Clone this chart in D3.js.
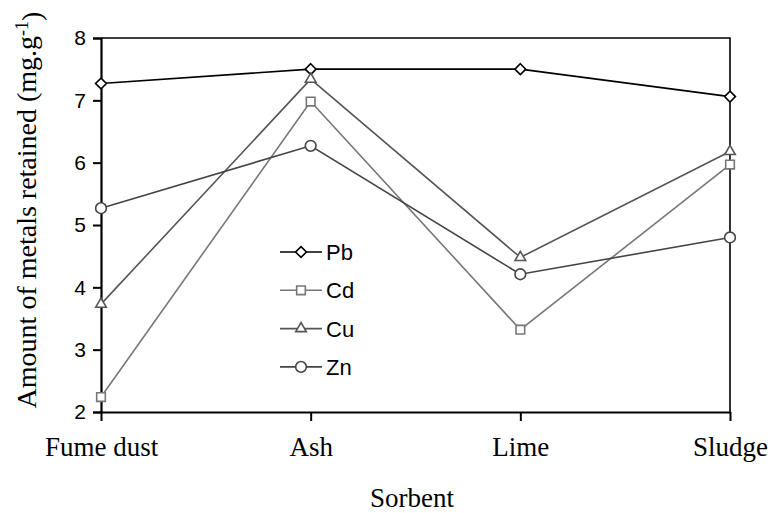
<!DOCTYPE html>
<html>
<head>
<meta charset="utf-8">
<script src="https://cdn.jsdelivr.net/npm/d3@7"></script>
<style>
  body { margin: 0; background: #fff; }
  svg { display: block; }
</style>
</head>
<body>
<div id="chart"></div>
<script>
// metals retained by each sorbent
const sorbents = ["Fume dust", "Ash", "Lime", "Sludge"];
const pb = [7.27, 7.50, 7.50, 7.06];
const cd = [2.24, 6.98, 3.32, 5.97];
const cu = [3.73, 7.34, 4.48, 6.18];
const zn = [5.27, 6.27, 4.21, 4.80];
const yTicks = [2, 3, 4, 5, 6, 7, 8];

const series = [
    { name: "Pb", values: pb, color: "#000", shape: "diamond" },
    { name: "Cd", values: cd, color: "#777", shape: "square" },
    { name: "Cu", values: cu, color: "#555", shape: "triangle" },
    { name: "Zn", values: zn, color: "#444", shape: "circle" }
];

const width = 771, height = 513;
const margin = { top: 38, right: 41, bottom: 101, left: 101 };
const serif = "Liberation Serif, Times New Roman, serif";
const sans = "Liberation Sans, Arial, sans-serif";

const svg = d3.select("#chart").append("svg")
    .attr("width", width)
    .attr("height", height);

const x = d3.scalePoint()
    .domain(sorbents)
    .range([margin.left, width - margin.right]);

const y = d3.scaleLinear()
    .domain([2, 8])
    .range([height - margin.bottom, margin.top]);

const symbols = {
    diamond: d3.symbol().type(d3.symbolDiamond2).size(75),
    square: d3.symbol().type(d3.symbolSquare2).size(95),
    triangle: d3.symbol().type(d3.symbolTriangle2).size(80),
    circle: d3.symbol().type(d3.symbolCircle).size(90)
};

// frame (top and right)
svg.append("path")
    .attr("d", `M${margin.left},${margin.top}H${width - margin.right}V${height - margin.bottom}`)
    .attr("fill", "none")
    .attr("stroke", "#000")
    .attr("stroke-width", 1.6);

// y axis
const yAxis = svg.append("g")
    .attr("transform", `translate(${margin.left},0)`)
    .call(d3.axisLeft(y).tickValues(yTicks).tickSize(8).tickPadding(7).tickFormat(d3.format("d")));
yAxis.select(".domain").attr("stroke-width", 2.2);
yAxis.selectAll(".tick line").attr("stroke-width", 2);
yAxis.selectAll("text")
    .style("font-family", sans)
    .style("font-size", "21px")
    .attr("fill", "#000");

// x axis
const xAxis = svg.append("g")
    .attr("transform", `translate(0,${height - margin.bottom})`)
    .call(d3.axisBottom(x).tickSize(9).tickSizeOuter(0));
xAxis.select(".domain").attr("stroke-width", 2.2);
xAxis.selectAll(".tick line").attr("stroke-width", 2);
xAxis.selectAll("text")
    .attr("y", 44)
    .attr("dy", 0)
    .style("font-family", serif)
    .style("font-size", "27px")
    .attr("fill", "#000");

// lines
const line = d3.line()
    .x((d, i) => x(sorbents[i]))
    .y(d => y(d));

series.forEach(s => {
    svg.append("path")
        .datum(s.values)
        .attr("d", line)
        .attr("fill", "none")
        .attr("stroke", s.color)
        .attr("stroke-width", 1.6);
});

series.forEach(s => {
    svg.selectAll(null)
        .data(s.values)
        .enter().append("path")
        .attr("d", symbols[s.shape])
        .attr("transform", (d, i) => `translate(${x(sorbents[i])},${y(d)})`)
        .attr("fill", "#fff")
        .attr("stroke", s.color)
        .attr("stroke-width", 1.6);
});

// legend
const legend = svg.append("g").attr("transform", "translate(280,252)");
series.forEach((s, i) => {
    const g = legend.append("g").attr("transform", `translate(0,${i * 38.3})`);
    g.append("line")
        .attr("x1", 0).attr("x2", 42)
        .attr("stroke", s.color)
        .attr("stroke-width", 1.6);
    g.append("path")
        .attr("d", symbols[s.shape])
        .attr("transform", "translate(21,0)")
        .attr("fill", "#fff")
        .attr("stroke", s.color)
        .attr("stroke-width", 1.6);
    g.append("text")
        .attr("x", 46)
        .attr("dy", "0.36em")
        .style("font-family", sans)
        .style("font-size", "22px")
        .text(s.name);
});

// axis titles
svg.append("text")
    .attr("x", 412)
    .attr("y", 507)
    .attr("text-anchor", "middle")
    .style("font-family", serif)
    .style("font-size", "27px")
    .text("Sorbent");

const yTitle = svg.append("text")
    .attr("transform", "translate(36,210) rotate(-90)")
    .attr("text-anchor", "middle")
    .style("font-family", serif)
    .style("font-size", "28px");
yTitle.append("tspan").text("Amount of metals retained (mg.g");
yTitle.append("tspan").attr("dy", "-0.45em").style("font-size", "18px").text("-1");
yTitle.append("tspan").attr("dy", "0.45em").text(")");
</script>
</body>
</html>
